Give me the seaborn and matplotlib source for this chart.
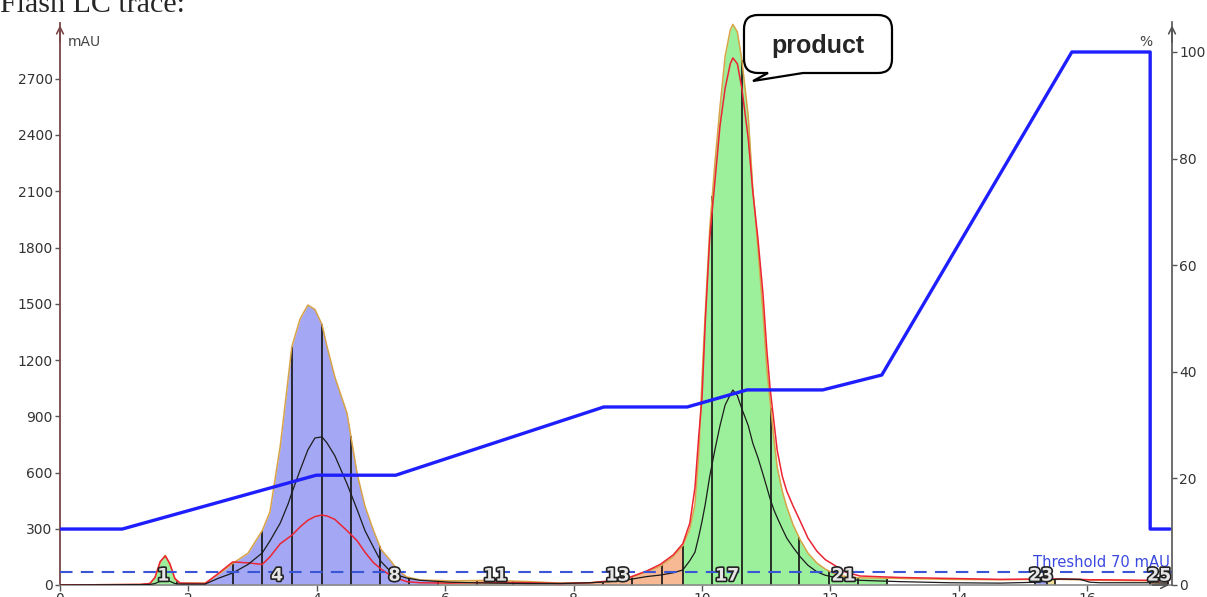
import numpy as np
import pandas as pd
import matplotlib
matplotlib.use("Agg")
import matplotlib.pyplot as plt
import matplotlib.patheffects as pe
from matplotlib.path import Path
from matplotlib.patches import PathPatch
from matplotlib.transforms import Affine2D
import seaborn as sns

# ---- detector traces (retention time in min, absorbance in mAU) ----
time_min = [0.00, 1.25, 1.40, 1.48, 1.56, 1.64, 1.71, 1.79, 1.87, 2.26, 2.46, 2.69,
            2.93, 3.15, 3.27, 3.43, 3.55, 3.61, 3.74, 3.86, 3.97, 4.08, 4.16, 4.28,
            4.47, 4.63, 4.75, 4.88, 5.00, 5.14, 5.26, 5.40, 5.61, 6.07, 6.70, 7.32,
            7.79, 8.26, 8.57, 8.88, 9.14, 9.35, 9.55, 9.70, 9.81, 9.89, 9.95, 10.00,
            10.05, 10.12, 10.20, 10.28, 10.36, 10.44, 10.48, 10.55, 10.62, 10.72, 10.79,
            10.87, 10.95, 11.01, 11.06, 11.12, 11.17, 11.25, 11.32, 11.42, 11.53, 11.65,
            11.79, 11.92, 12.04, 12.23, 12.46, 13.08, 13.86, 14.64, 15.26, 15.42, 15.58,
            15.89, 16.04, 16.20, 16.98, 17.26]
total_mau = [0, 3, 8, 40, 120, 158, 110, 30, 10, 10, 55, 115,
             170, 290, 390, 740, 1090, 1270, 1420, 1493, 1470, 1390, 1270, 1110,
             917, 590, 420, 293, 190, 133, 80, 43, 27, 22, 25, 18,
             10, 12, 20, 40, 70, 100, 150, 210, 300, 430, 700, 1100,
             1450, 1900, 2250, 2550, 2820, 2960, 2990, 2950, 2800, 2500, 2120,
             1800, 1450, 1150, 980, 780, 630, 500, 416, 320, 240, 170,
             117, 85, 64, 45, 38, 35, 30, 28, 30, 30, 30,
             28, 26, 25, 22, 20]
red_mau = [0, 3, 8, 40, 125, 155, 115, 35, 10, 8, 60, 123,
           118, 110, 150, 220, 250, 265, 310, 345, 365, 373, 368, 350,
           290, 235, 175, 120, 85, 53, 35, 18, 12, 10, 14, 12,
           8, 12, 22, 42, 75, 110, 160, 220, 330, 520, 800, 1000,
           1400, 1850, 2150, 2450, 2650, 2780, 2811, 2780, 2650, 2380, 2100,
           1850, 1550, 1250, 1050, 870, 720, 580, 500, 420, 340, 250,
           180, 135, 110, 70, 48, 40, 35, 30, 32, 32, 32,
           30, 28, 28, 25, 20]
black_mau = [0, 2, 3, 8, 20, 30, 20, 8, 5, 5, 35, 64,
             110, 171, 235, 330, 430, 490, 613, 720, 784, 790, 757, 690,
             540, 400, 290, 203, 125, 75, 52, 37, 25, 15, 10, 8,
             8, 12, 18, 30, 45, 53, 65, 80, 130, 175, 260, 340,
             430, 580, 720, 850, 960, 1015, 1040, 1010, 940, 850, 757,
             680, 590, 520, 460, 400, 360, 300, 250, 200, 150, 105,
             70, 52, 43, 32, 25, 18, 12, 10, 15, 28, 32,
             30, 15, 12, 12, 10]

# ---- solvent gradient (% B) ----
grad_time = [0.00, 0.97, 3.99, 5.23, 8.47, 9.77, 10.70, 11.88, 12.80, 15.76, 16.98, 16.98, 17.29]
grad_pct = [10.5, 10.5, 20.6, 20.6, 33.4, 33.4, 36.6, 36.6, 39.4, 100.0, 100.0, 10.5, 10.5]

# ---- collected fractions ----
frac_num = list(range(1, 26))
frac_start = [1.40, 2.26, 2.69, 3.15, 3.61, 4.08, 4.53, 4.98, 5.44, 5.89, 6.50, 7.06, 8.46,
              8.91, 9.38, 9.70, 10.16, 10.62, 11.07, 11.51, 11.98, 12.43, 15.19, 15.37, 16.98]
frac_end = [1.82, 2.69, 3.15, 3.61, 4.08, 4.53, 4.98, 5.44, 5.89, 6.50, 7.06, 8.46, 8.91,
            9.38, 9.70, 10.16, 10.62, 11.07, 11.51, 11.98, 12.43, 12.88, 15.37, 15.50, 17.26]
frac_fill = ["green", "blue", "blue", "blue", "blue", "blue", "blue", "blue", "blue",
             "yellow", "yellow", "peach", "peach", "peach", "peach", "green", "green",
             "green", "green", "green", "green", "green", "blue", "yellow", "peach"]
frac_labelled = [1, 4, 8, 11, 13, 17, 21, 23, 25]

threshold_mau = 70
left_ticks = [0, 300, 600, 900, 1200, 1500, 1800, 2100, 2400, 2700]
right_ticks = [0, 20, 40, 60, 80, 100]
x_ticks = [0, 2, 4, 6, 8, 10, 12, 14, 16]

fill_colors = {"green": "#9cf09c", "blue": "#a4a8f4", "yellow": "#f0df98", "peach": "#f6b993"}

W, H = 1207, 597
sns.set_theme(style="white")
plt.rcParams["font.family"] = ["DejaVu Sans"]

fig = plt.figure(figsize=(W / 100, H / 100), dpi=100)
ax_l, ax_r, ax_b, ax_t = 60, 1172, 585, 22.5
ax = fig.add_axes([ax_l / W, (H - ax_b) / H, (ax_r - ax_l) / W, (ax_b - ax_t) / H])
ax.set_xlim(0, 17.32)
ax.set_ylim(0, 3000)

traces = pd.DataFrame({"time": time_min, "total": total_mau,
                       "red": red_mau, "black": black_mau})
t = np.asarray(time_min, float)
tot = np.asarray(total_mau, float)

# fraction fills under the total trace
for n, a, b, c in zip(frac_num, frac_start, frac_end, frac_fill):
    inside = (t > a) & (t < b)
    xs = np.concatenate([[a], t[inside], [b]])
    ys = np.interp(xs, t, tot)
    ax.fill_between(xs, 0, ys, color=fill_colors[c], lw=0, zorder=1)

# fraction boundaries
edges = sorted(set(frac_start) | set(frac_end))
edge_h = np.interp(edges, t, tot)
ax.vlines(edges, 0, edge_h, color="#111111", lw=1.2, zorder=2)

sns.lineplot(data=traces, x="time", y="total", ax=ax, color="#d8a447", lw=1.1,
             estimator=None, sort=False, zorder=3)
sns.lineplot(data=traces, x="time", y="red", ax=ax, color="#ec2433", lw=1.1,
             estimator=None, sort=False, zorder=3)
sns.lineplot(data=traces, x="time", y="black", ax=ax, color="#1c1c1c", lw=0.9,
             estimator=None, sort=False, zorder=3)

# detection threshold
ax.axhline(threshold_mau, color="#3a55d6", lw=1.5, ls=(0, (6, 4)), zorder=4)
ax.text(17.28, threshold_mau + 8, f"Threshold {threshold_mau} mAU", ha="right", va="bottom",
        color="#3a48e0", fontsize=10.6, zorder=5)

# fraction numbers
for n, a, b in zip(frac_num, frac_start, frac_end):
    if n in frac_labelled:
        ax.text((a + b) / 2, 50, str(n), ha="center", va="center", fontsize=12.5,
                fontweight="bold", color="#e6e6e6", zorder=6,
                path_effects=[pe.withStroke(linewidth=2.4, foreground="#222222")])

ax.set_xlabel("")
ax.set_ylabel("")
ax.set_xticks(x_ticks)
ax.set_xticklabels([str(v) for v in x_ticks])
ax.set_yticks(left_ticks)
ax.set_yticklabels([str(v) for v in left_ticks])
for s in ("top", "right"):
    ax.spines[s].set_visible(False)
ax.spines["left"].set_color("#7a4848")
ax.spines["left"].set_linewidth(1.3)
ax.spines["bottom"].set_color("#8a8a8a")
ax.spines["bottom"].set_linewidth(1.2)
ax.tick_params(axis="y", direction="out", length=3.8, width=1, color="#555555",
               labelcolor="#333333", labelsize=10, pad=1.5, left=True)
ax.tick_params(axis="x", direction="out", length=4.5, width=1, color="#555555",
               labelcolor="#333333", labelsize=10, pad=0.8, bottom=True)
ax.text(0.007, 1 - 20 / (ax_b - ax_t), "mAU", transform=ax.transAxes, fontsize=10,
        color="#444444", va="center", ha="left")

# gradient on the right-hand % axis
ax2 = ax.twinx()
ax2.set_ylim(0, 3000 * 0.1875 / 5.33)
grad = pd.DataFrame({"time": grad_time, "pct": grad_pct})
sns.lineplot(data=grad, x="time", y="pct", ax=ax2, color="#1e1eff", lw=2.4,
             estimator=None, sort=False)
ax2.set_ylabel("")
ax2.set_yticks(right_ticks)
ax2.set_yticklabels([str(v) for v in right_ticks])
for s in ("top", "left", "bottom"):
    ax2.spines[s].set_visible(False)
ax2.spines["right"].set_color("#555555")
ax2.spines["right"].set_linewidth(1.2)
ax2.tick_params(axis="y", direction="out", length=3.8, width=1, color="#555555",
                labelcolor="#333333", labelsize=10, pad=1.5, right=True)
ax2.text(0.982, 1 - 20 / (ax_b - ax_t), "%", transform=ax2.transAxes, fontsize=10,
         color="#444444", va="center", ha="right")

# arrow heads on the axes
arrow_kw = dict(arrowstyle="->", lw=1.2, mutation_scale=12)
ax2.annotate("", xy=(0, 1), xytext=(0, 0.96), xycoords="axes fraction",
             arrowprops=dict(color="#7a4848", **arrow_kw), annotation_clip=False)
ax2.annotate("", xy=(1, 1), xytext=(1, 0.96), xycoords="axes fraction",
             arrowprops=dict(color="#555555", **arrow_kw), annotation_clip=False)
ax2.annotate("", xy=(1.0, 0), xytext=(0.98, 0), xycoords="axes fraction",
             arrowprops=dict(color="#555555", **arrow_kw), annotation_clip=False)

# speech bubble marking the product peak (pixel coordinates, y from the top)
pix = Affine2D().scale(1 / W, -1 / H).translate(0, 1) + fig.transFigure
L, R, T, B, r = 744, 892, 15, 73, 14
verts = [(L + r, T), (R - r, T), (R, T), (R, T + r), (R, B - r), (R, B), (R - r, B),
         (803, B), (753, 81), (768, B), (L + r, B), (L, B), (L, B - r), (L, T + r),
         (L, T), (L + r, T), (L + r, T)]
codes = [Path.MOVETO, Path.LINETO, Path.CURVE3, Path.CURVE3, Path.LINETO, Path.CURVE3,
         Path.CURVE3, Path.LINETO, Path.LINETO, Path.LINETO, Path.LINETO, Path.CURVE3,
         Path.CURVE3, Path.LINETO, Path.CURVE3, Path.CURVE3, Path.CLOSEPOLY]
bubble = PathPatch(Path(verts, codes), facecolor="white", edgecolor="black", lw=1.6,
                   transform=pix, zorder=10)
fig.patches.append(bubble)
fig.text(818 / W, 1 - 53 / H, "product", ha="center", va="baseline", fontsize=18,
         fontweight="bold", family="Liberation Sans", zorder=11)

# heading above the chart
fig.text(0.0, 1 - 12 / H, "Flash LC trace:", ha="left", va="baseline", fontsize=21.6,
         family="Liberation Serif")

fig.savefig("out.png", dpi=100)
